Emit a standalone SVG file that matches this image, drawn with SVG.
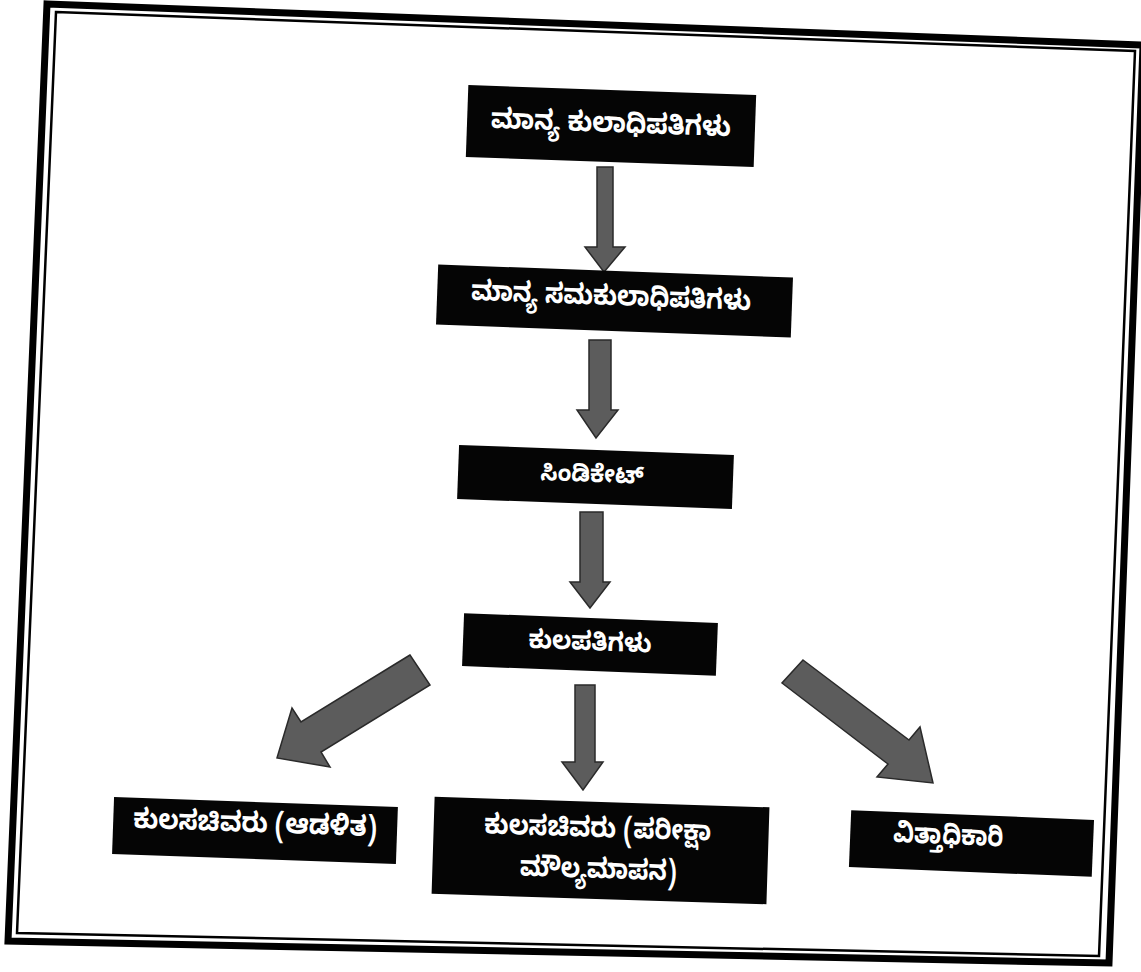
<svg xmlns="http://www.w3.org/2000/svg" width="1141" height="972" viewBox="0 0 1141 972">
<style>
.box{fill:#050505}
.lbl{fill:#ffffff;font-family:"Noto Sans Kannada","Noto Sans","DejaVu Sans",sans-serif;font-weight:bold;text-anchor:middle}
.arr{fill:#5c5c5c;stroke:#2a2a2a;stroke-width:1.5;stroke-linejoin:miter}
</style>
<rect width="1141" height="972" fill="#ffffff"/>
<g id="frame" fill="none" stroke="#000">
<polygon points="47,4 1143,45 1109,963 8,941" stroke-width="7"/>
<polygon points="56,12 1135,51 1099,956 17,933" stroke-width="2.5"/>
</g>
<g id="connectors">
<polygon class="arr" points="597,167 613,167 613,247 625,247 604,272 585,247 597,247"/>
<polygon class="arr" points="589,340 611,340 611,410 618,410 596,438 577,410 589,410"/>
<polygon class="arr" points="580,512 603,512 603,582 610,582 590,608 570,582 580,582"/>
<polygon class="arr" points="575,685 595,685 595,762 603,762 583,790 562,762 575,762"/>
<polygon class="arr" points="410,655 301,722 292,708 277,758 330,767 321,752 430,685"/>
<polygon class="arr" points="803,660 909,740 920,727 933,783 877,777 888,764 782,683"/>
</g>
<g id="n1" transform="rotate(2 611 126)">
<rect class="box" x="467" y="90" width="288" height="72"/>
<text class="lbl" x="611" y="132" font-size="28" textLength="240" lengthAdjust="spacingAndGlyphs">ಮಾನ್ಯ ಕುಲಾಧಿಪತಿಗಳು</text>
</g>
<g id="n2" transform="rotate(2.1 614 301)">
<rect class="box" x="437" y="271" width="355" height="60"/>
<text class="lbl" x="611" y="305" font-size="28" textLength="280" lengthAdjust="spacingAndGlyphs">ಮಾನ್ಯ ಸಮಕುಲಾಧಿಪತಿಗಳು</text>
</g>
<g id="n3" transform="rotate(2.1 595 477)">
<rect class="box" x="458" y="450" width="275" height="54"/>
<text class="lbl" x="592" y="482" font-size="24" textLength="103" lengthAdjust="spacingAndGlyphs">ಸಿಂಡಿಕೇಟ್</text>
</g>
<g id="n4" transform="rotate(2.2 590 644)">
<rect class="box" x="463" y="618" width="254" height="53"/>
<text class="lbl" x="590" y="650" font-size="26" textLength="123" lengthAdjust="spacingAndGlyphs">ಕುಲಪತಿಗಳು</text>
</g>
<g id="n5" transform="rotate(2 255 830)">
<rect class="box" x="113" y="802" width="284" height="57"/>
<text class="lbl" x="255" y="832" font-size="28" textLength="244" lengthAdjust="spacingAndGlyphs">ಕುಲಸಚಿವರು (ಆಡಳಿತ)</text>
</g>
<g id="n6" transform="rotate(1.8 600 851)">
<rect class="box" x="433" y="802" width="335" height="97"/>
<text class="lbl" x="597" y="837" font-size="28" textLength="227" lengthAdjust="spacingAndGlyphs">ಕುಲಸಚಿವರು (ಪರೀಕ್ಷಾ</text>
<text class="lbl" x="599" y="878" font-size="28" textLength="157" lengthAdjust="spacingAndGlyphs">ಮೌಲ್ಯಮಾಪನ)</text>
</g>
<g id="n7" transform="rotate(2.3 971 843)">
<rect class="box" x="850" y="815" width="243" height="57"/>
<text class="lbl" x="948" y="845" font-size="28" textLength="110" lengthAdjust="spacingAndGlyphs">ವಿತ್ತಾಧಿಕಾರಿ</text>
</g>
</svg>
